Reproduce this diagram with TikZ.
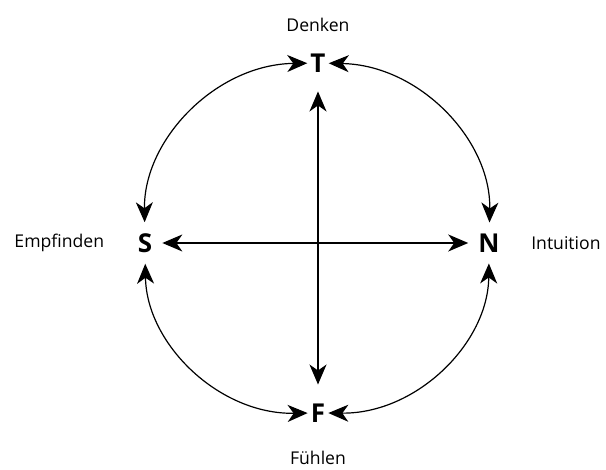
\documentclass[tikz,border=0pt]{standalone}
\usepackage{fontspec}
\setmainfont{Open Sans}
\usetikzlibrary{arrows.meta, positioning}

\begin{document}
\begin{tikzpicture}[
        x=1pt, y=1pt,
        pole/.style={font=\fontsize{26}{28}\selectfont\bfseries, inner sep=3pt},
        caption/.style={font=\fontsize{17.6}{20}\selectfont},
        arrow/.style={<->, >={Stealth[length=20pt,width=17pt,inset=6pt]}, line width=1.2pt}
    ]
        \useasboundingbox (0,0) rectangle (606,470);
        \node[pole] (T) at (318,407) {T};
        \node[pole] (F) at (318,57) {F};
        \node[pole] (S) at (145,227) {S};
        \node[pole] (N) at (489,227) {N};

        \node[caption, above=15pt of T] (denken) {Denken};
        \node[caption, below=22pt of F] (fuehlen) {Fühlen};
        \node[caption, left=27pt of S] (empfinden) {Empfinden};
        \node[caption, right=25pt of N] (intuition) {Intuition};

        \draw[arrow, shorten <=16pt, shorten >=16pt] (T) -- (F);
        \draw[arrow, shorten <=7pt, shorten >=7pt] (S) -- (N);
        \draw[arrow, shorten >=8pt] (T) to[bend right=45] (S);
        \draw[arrow, shorten >=8pt] (T) to[bend left=45] (N);
        \draw[arrow, shorten >=8pt] (F) to[bend left=45] (S);
        \draw[arrow, shorten >=8pt] (F) to[bend right=45] (N);
    \end{tikzpicture}
\end{document}
